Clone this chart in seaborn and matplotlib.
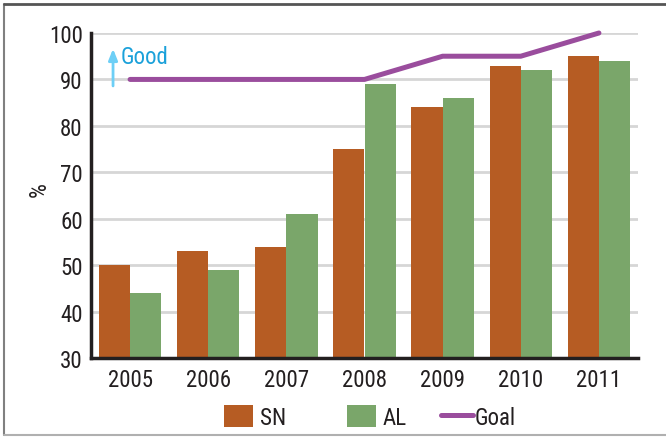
import matplotlib
matplotlib.use("Agg")
import matplotlib.pyplot as plt
import seaborn as sns
import pandas as pd
import numpy as np
from matplotlib.patches import Patch
from matplotlib.lines import Line2D

years = ["2005", "2006", "2007", "2008", "2009", "2010", "2011"]
sn_values = [50, 53, 54, 75, 84, 93, 95]
al_values = [44, 49, 61, 89, 86, 92, 94]
goal_values = [90, 90, 90, 90, 95, 95, 100]
y_ticks = [30, 40, 50, 60, 70, 80, 90, 100]

c_sn = "#B65C23"
c_al = "#7AA66A"
c_goal = "#9A4D9D"
c_text = "#231F20"

sns.set_theme(style="white")
plt.rcParams['font.family'] = ['Roboto Condensed', 'DejaVu Sans']

df = pd.DataFrame({
    "year": years * 2,
    "value": sn_values + al_values,
    "series": ["SN"] * len(years) + ["AL"] * len(years),
})

fig = plt.figure(figsize=(6.66, 4.39), dpi=100)
ax = fig.add_axes([91/666, 1-359/439, (638-91)/666, (359-34)/439])

sns.barplot(data=df, x="year", y="value", hue="series",
            palette={"SN": c_sn, "AL": c_al}, width=0.8, saturation=1,
            gap=0, ax=ax, legend=False, linewidth=0)
sns.lineplot(x=np.arange(len(years)), y=goal_values, color=c_goal,
             linewidth=3.6, ax=ax, solid_capstyle="round", legend=False,
             clip_on=False, zorder=5)

ax.set_xlim(-0.5, len(years) - 0.5)
ax.set_ylim(30, 100)
ax.set_yticks(y_ticks)
ax.set_yticklabels([str(t) for t in y_ticks], fontsize=16.5, color=c_text)
ax.yaxis.grid(True, color="#D6D6D6", linewidth=2)
ax.xaxis.grid(False)
ax.set_axisbelow(True)

ax.set_xticks(np.arange(len(years)))
ax.set_xticklabels(years, fontsize=16.5, color=c_text)
ax.set_xticks(np.arange(len(years)) + 0.5, minor=True)
ax.tick_params(axis="x", which="major", length=0, pad=7)
ax.tick_params(axis="x", which="minor", direction="in", length=5, width=2, color=c_text)
ax.tick_params(axis="y", length=0, pad=6)
ax.set_xlabel("")
ax.set_ylabel("%", fontsize=17, color=c_text)
ax.yaxis.set_label_coords((51 - 91) / 547, (359 - 190) / 325)

for s in ["top", "right"]:
    ax.spines[s].set_visible(False)
for s in ["left", "bottom"]:
    ax.spines[s].set_color(c_text)
    ax.spines[s].set_linewidth(2.5)

# Good arrow
ax.annotate("", xy=(-0.218, 97.2), xytext=(-0.218, 88.0),
            arrowprops=dict(arrowstyle="-|>,head_width=0.22,head_length=0.55",
                            color="#6DCFF6", lw=2), annotation_clip=False)
ax.text(-0.12, 95.0, "Good", color="#1BA1DA", fontsize=16.5, va="center", ha="left")

# legend entries placed individually
entries = [
    (Patch(facecolor=c_sn, edgecolor="none"), "SN", 224, 1.26, 0.3),
    (Patch(facecolor=c_al, edgecolor="none"), "AL", 347, 1.26, 0.3),
    (Line2D([0], [0], color=c_goal, linewidth=3.6, solid_capstyle="round"), "Goal", 441, 1.4, 0.08),
]
for h, lab, xpx, hl, tp in entries:
    lg = fig.legend([h], [lab], loc="center left",
                    bbox_to_anchor=(xpx / 666, 1 - 418 / 439), frameon=False,
                    fontsize=16.5, handlelength=hl, handleheight=1.13,
                    handletextpad=tp, borderpad=0, borderaxespad=0)
    for t in lg.get_texts():
        t.set_color(c_text)

# frame around figure
fig.add_artist(Line2D([4/666, 4/666], [1-5/439, 1-436/439], color="#808080", lw=1.5, transform=fig.transFigure))
fig.add_artist(Line2D([4/666, 1.0], [1-5/439, 1-5/439], color="#555555", lw=2, transform=fig.transFigure))
fig.add_artist(Line2D([4/666, 1.0], [1-436/439, 1-436/439], color="#B0B0B0", lw=1.5, transform=fig.transFigure))

fig.savefig("out.png", dpi=100)
